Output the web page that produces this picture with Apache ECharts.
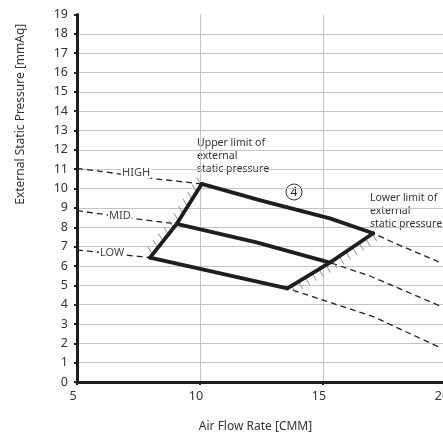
<!DOCTYPE html>
<html>
<head>
<meta charset="utf-8">
<script src="https://cdn.jsdelivr.net/npm/echarts@6/dist/echarts.min.js"></script>
<style>
  html, body { margin: 0; padding: 0; background: #fff; }
  #chart { width: 443px; height: 436px; }
</style>
</head>
<body>
<div id="chart"></div>
<script>
// Fan curves per tap: [air flow (CMM), external static pressure (mmAq)]
const highTap = [[5, 11.05], [8.37, 10.48], [10.07, 10.24], [12.57, 9.35], [15.28, 8.46], [17.04, 7.69], [17.79, 7.25], [19.83, 6.14]];
const midTap  = [[5, 8.86], [7.22, 8.47], [9.05, 8.17], [12.3, 7.22], [15.28, 6.17], [16.91, 5.48], [19.83, 3.89]];
const lowTap  = [[5, 6.83], [7.97, 6.43], [13.55, 4.84], [17.04, 3.38], [19.83, 1.74]];

// Boundaries of the operating range (LOW, MID, HIGH crossings)
const upperLimit = [[7.97, 6.43], [9.05, 8.17], [10.07, 10.24]];
const lowerLimit = [[13.55, 4.84], [15.28, 6.17], [17.04, 7.69]];

const tapNames = ['HIGH', 'MID', 'LOW'];
const xTicks = [5, 10, 15, 20];
const yTicks = [0, 19, 1];          // min, max, step
const modelNo = '4';

const xTitle = 'Air Flow Rate [CMM]';
const yTitle = 'External Static Pressure [mmAq]';
const upperNote = ['Upper limit of', 'external', 'static pressure'];
const lowerNote = ['Lower limit of', 'external', 'static pressure'];

const FONT = 'Noto Sans';
const INK = '#1e1e1e';

// part of a fan curve that lies between the two pressure limits
function operating(curve, from, to) {
  return curve.filter(p => p[0] >= from[0] - 1e-9 && p[0] <= to[0] + 1e-9);
}

// short slanted strokes along a boundary, spaced in screen pixels
function hatch(points, dx, dy, gap, start) {
  return function (params, api) {
    const px = points.map(p => api.coord(p));
    const children = [];
    let t = start;
    for (let i = 0; i < px.length - 1; i++) {
      const a = px[i], b = px[i + 1];
      const len = Math.hypot(b[0] - a[0], b[1] - a[1]);
      while (t <= len) {
        const x = a[0] + (b[0] - a[0]) * t / len;
        const y = a[1] + (b[1] - a[1]) * t / len;
        children.push({
          type: 'line',
          shape: { x1: x, y1: y, x2: x + dx, y2: y + dy },
          style: { stroke: '#8f8f8f', lineWidth: 1 }
        });
        t += gap;
      }
      t -= len;
    }
    return { type: 'group', children };
  };
}

const taps = [highTap, midTap, lowTap];
const series = [];

taps.forEach((curve, i) => {
  series.push({
    name: tapNames[i] + ' curve',
    type: 'line',
    data: curve,
    symbol: 'none',
    silent: true,
    z: 2,
    lineStyle: { color: '#222', width: 1.3, type: [6, 4] }
  });
});

series.push({
  type: 'custom', coordinateSystem: 'cartesian2d', silent: true, z: 3,
  data: [upperLimit[0]],
  renderItem: hatch(upperLimit, -4.5, -7.5, 8.5, 4)
});
series.push({
  type: 'custom', coordinateSystem: 'cartesian2d', silent: true, z: 3,
  data: [lowerLimit[0]],
  renderItem: hatch(lowerLimit, 4.5, 7.5, 8, 5)
});

taps.forEach((curve, i) => {
  const k = 2 - i;
  series.push({
    name: tapNames[i],
    type: 'line',
    data: operating(curve, upperLimit[k], lowerLimit[k]),
    symbol: 'none',
    silent: true,
    z: 4,
    lineStyle: { color: INK, width: 3.8, cap: 'round', join: 'round' }
  });
});

[upperLimit, lowerLimit].forEach(edge => {
  series.push({
    type: 'line',
    data: edge,
    symbol: 'none',
    silent: true,
    z: 4,
    lineStyle: { color: INK, width: 3.8, cap: 'round', join: 'round' }
  });
});

function note(lines, x, y, w) {
  return {
    type: 'group', x: x, y: y, z: 5,
    children: [
      { type: 'rect', shape: { x: -1, y: -7, width: w, height: lines.length * 13 + 1 }, style: { fill: '#fff' } },
      ...lines.map((s, j) => ({
        type: 'text', x: 0, y: j * 13,
        style: { text: s, fontSize: 10.5, fontFamily: FONT, fill: '#333', verticalAlign: 'middle' }
      }))
    ]
  };
}

function tapLabel(text, x, y) {
  return {
    type: 'text', x: x, y: y, z: 5,
    style: {
      text: text, fontSize: 11, fontFamily: FONT, fill: '#444', verticalAlign: 'middle',
      backgroundColor: '#fff', padding: [0, 1]
    }
  };
}

const chart = echarts.init(document.getElementById('chart'), null, { renderer: 'canvas' });
chart.setOption({
  animation: false,
  textStyle: { fontFamily: FONT },
  grid: { left: 77, right: -3, top: 14.5, bottom: 54, containLabel: false, outerBoundsMode: 'none' },
  xAxis: {
    type: 'value', min: xTicks[0], max: xTicks[xTicks.length - 1], interval: xTicks[1] - xTicks[0],
    name: xTitle, nameLocation: 'middle', nameGap: 39,
    nameTextStyle: { fontSize: 12, fontFamily: FONT, color: '#333', padding: [0, 12, 0, 0] },
    axisLine: { show: true, lineStyle: { color: INK, width: 3 } },
    axisTick: { show: true, length: 3, lineStyle: { color: INK, width: 2 } },
    axisLabel: { fontSize: 12.5, fontFamily: FONT, color: '#333', margin: 8, padding: [0, 8, 0, 0] },
    splitLine: { show: true, lineStyle: { color: '#c4c4c4', width: 1 } }
  },
  yAxis: {
    type: 'value', min: yTicks[0], max: yTicks[1], interval: yTicks[2],
    name: yTitle, nameLocation: 'middle', nameRotate: 90, nameGap: 50,
    nameTextStyle: { fontSize: 12, fontFamily: FONT, color: '#333', padding: [0, 0, 0, 168] },
    axisLine: { show: true, lineStyle: { color: INK, width: 3 } },
    axisTick: { show: true, length: 3, lineStyle: { color: INK, width: 2 } },
    axisLabel: { fontSize: 12.5, fontFamily: FONT, color: '#333', margin: 9 },
    splitLine: { show: true, showMaxLine: false, lineStyle: { color: '#c4c4c4', width: 1 } }
  },
  graphic: [
    tapLabel(tapNames[0], 121, 173),
    tapLabel(tapNames[1], 108, 216),
    tapLabel(tapNames[2], 99, 253),
    note(upperNote, 197, 143, 80),
    note(lowerNote, 370, 198, 76),
    {
      type: 'group', x: 294, y: 192, z: 5,
      children: [
        { type: 'circle', shape: { cx: 0, cy: 0, r: 8 }, style: { fill: '#fff', stroke: '#333', lineWidth: 1 } },
        { type: 'text', x: 0, y: 0.5, style: { text: modelNo, fontSize: 12, fontFamily: FONT, fill: '#222', align: 'center', verticalAlign: 'middle' } }
      ]
    }
  ],
  series: series
});
</script>
</body>
</html>
